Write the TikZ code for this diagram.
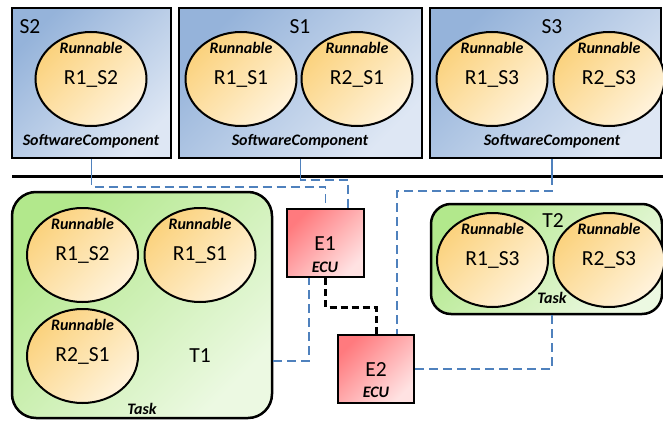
\documentclass[tikz,border=0pt]{standalone}
\usepackage{fontspec}
\setmainfont{Carlito}
\usetikzlibrary{shapes.geometric}
\definecolor{swA}{RGB}{149,179,218}
\definecolor{swB}{RGB}{222,231,244}
\definecolor{rnA}{RGB}{251,210,125}
\definecolor{rnB}{RGB}{255,243,220}
\definecolor{tkA}{RGB}{178,232,140}
\definecolor{tkB}{RGB}{236,249,226}
\definecolor{ecA}{RGB}{255,122,126}
\definecolor{ecB}{RGB}{255,226,226}
\definecolor{link}{RGB}{79,129,189}
\tikzset{
  swbox/.style={draw=black, line width=2.5pt, top color=swA, bottom color=swB, shading angle=45, minimum height=150pt},
  runbox/.style={ellipse, draw=black, line width=2pt, top color=rnA, bottom color=rnB, shading angle=45, minimum width=111pt, minimum height=94pt, inner sep=0pt, font=\fontsize{21.5}{22}\selectfont},
  taskbox/.style={draw=black, line width=2.5pt, rounded corners=24pt, top color=tkA, bottom color=tkB, shading angle=45},
  ecubox/.style={draw=black, line width=2.5pt, top color=ecA, bottom color=ecB, shading angle=45, inner sep=0pt},
  big/.style={font=\fontsize{21.5}{22}\selectfont},
  small/.style={font=\fontsize{16}{17}\selectfont\bfseries\itshape},
  bluelink/.style={draw=link, line width=1.3pt, dash pattern=on 9pt off 5pt},
  bluesolid/.style={draw=link, line width=1.3pt},
  hwlink/.style={draw=black, line width=3pt, dash pattern=on 7pt off 4pt}
}
\newcommand{\runn}[3]{%
  \node[runbox] (#1) at (#2) {#3};
  \node[small] at ([yshift=-17pt]#1.north) {Runnable};}
\begin{document}
\begin{tikzpicture}[x=1pt,y=-1pt]
\useasboundingbox (0,0) rectangle (663,420);
% software components
\node[swbox, minimum width=159pt] (S2) at (91.5,83) {};
\node[swbox, minimum width=243pt] (S1) at (300.5,83) {};
\node[swbox, minimum width=231pt] (S3) at (545.5,83) {};
\node[big] (S2l) at (30,27) {S2};
\node[big] (S1l) at (300,27) {S1};
\node[big] (S3l) at (552,27) {S3};
\node[small] (S2c) at (91,141) {SoftwareComponent};
\node[small] (S1c) at (300,141) {SoftwareComponent};
\node[small] (S3c) at (552,141) {SoftwareComponent};
\runn{aS2}{91,79}{R1\_S2}
\runn{aS1}{241,79}{R1\_S1}
\runn{bS1}{357,79}{R2\_S1}
\runn{aS3}{492,79}{R1\_S3}
\runn{bS3}{609,79}{R2\_S3}
% bar
\coordinate (barL) at (12,176);
\coordinate (barR) at (663,176);
\draw[line width=3pt] (barL) -- (barR);
% tasks
\node[taskbox, minimum width=260pt, minimum height=226pt] (T1) at (142,305) {};
\node[taskbox, rounded corners=20pt, minimum width=231pt, minimum height=110pt] (T2) at (546.5,259) {};
\runn{tR1S2}{82.5,255}{R1\_S2}
\runn{tR1S1}{200,255}{R1\_S1}
\runn{tR2S1}{82.5,356}{R2\_S1}
\runn{tR1S3}{492.5,260}{R1\_S3}
\runn{tR2S3}{609,260}{R2\_S3}
\node[big] (T1l) at (200,356) {T1};
\node[big] (T2l) at (553,221) {T2};
\node[small] (T1t) at (142,409) {Task};
\node[small] (T2t) at (552,298) {Task};
% ECUs
\node[ecubox, minimum width=77pt, minimum height=68pt] (E1) at (325.5,243) {};
\node[ecubox, minimum width=76pt, minimum height=68pt] (E2) at (376,369) {};
\node[big] (E1l) at (325,244) {E1};
\node[small] (E1c) at (325,267) {ECU};
\node[big] (E2l) at (376,370) {E2};
\node[small] (E2c) at (376,392) {ECU};
% links
\draw[bluesolid] (S2.south) -- (S2.south |- barL);
\draw[bluelink] (S2.south |- barL) -- ++(0,11) -| (E1.north);
\draw[bluesolid] (S1.south) -- (S1.south |- barL);
\draw[bluelink] (S1.south |- barL) -- ++(0,4) -| ([xshift=22.5pt]E1.north);
\draw[bluesolid] ([xshift=6.5pt]S3.south) -- ([xshift=6.5pt]S3.south |- barL);
\draw[bluelink] ([xshift=6.5pt]S3.south |- barL) -- ++(0,15) -| ([xshift=21pt]E2.north);
\draw[bluelink] ([yshift=-56pt]T1.east) -| ([xshift=-16.5pt]E1.south);
\draw[bluelink] ([xshift=5.5pt]T2.south) |- (E2.east);
\draw[hwlink] (E1.south) -- ++(0,29) -| (E2.north);
\end{tikzpicture}
\end{document}
